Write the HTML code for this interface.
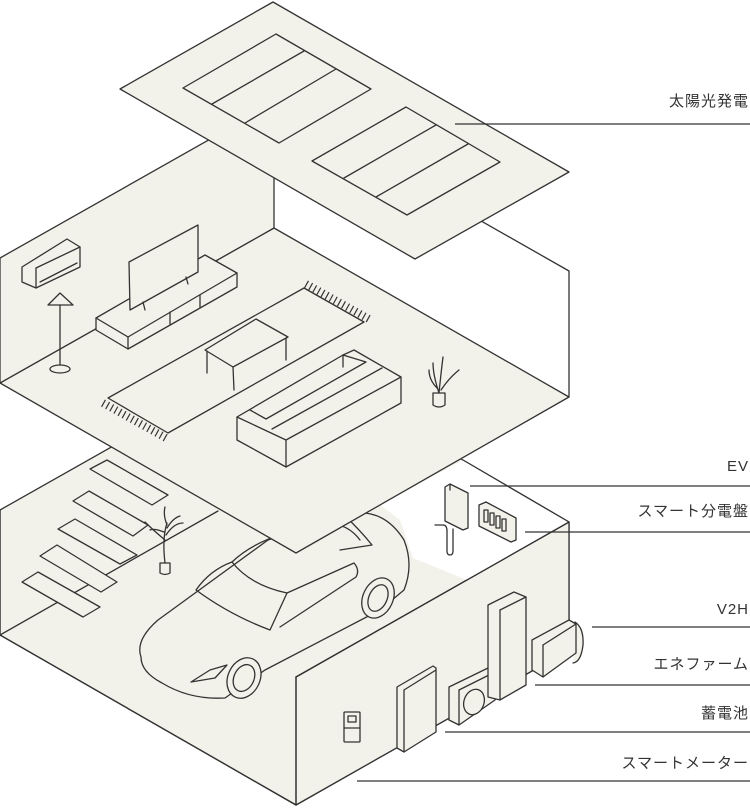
<!DOCTYPE html>
<html><head><meta charset="utf-8"><style>
html,body{margin:0;padding:0;background:#fff;}
svg{display:block;}
text{font-family:"Liberation Sans","Noto Sans CJK JP",sans-serif;font-size:15px;fill:#333;letter-spacing:1px;}
</style></head><body>
<svg width="750" height="808" viewBox="0 0 750 808" xmlns="http://www.w3.org/2000/svg">
<g fill="#f3f2ea" stroke="#333" stroke-width="1.3" stroke-linejoin="round" stroke-linecap="round">
<!-- lower box -->
<polygon points="0,510 230,380 461,459 569,522 569,650 296,805 0,635"/>
<polygon points="296,677 569,522 569,650 296,805" />
<polyline fill="none" points="0,510 0,635 296,805"/>
<polygon fill="#fff" stroke="none" points="380,505 463,460 569,522 467,580 413,558 400,520"/>
<line x1="463" y1="460" x2="569" y2="522"/>
<line x1="296" y1="677" x2="569" y2="522"/>
<line x1="296" y1="677" x2="296" y2="805"/>
<line x1="0" y1="635" x2="218" y2="511"/>
<!-- parking stripes -->
<polygon points="90,469 107,460 168,495 152,505"/>
<polygon points="73,501 89,491 148,525 133,536"/>
<polygon points="58,529 75,519 137,555 120,564"/>
<polygon points="40,556 57,545 117,582 101,592"/>
<polygon points="22,582 38,572 100,607 83,617"/>
<!-- plant lower -->
<path d="M160,563 h10 v10 q-5,3 -10,0z" />
<path fill="none" d="M165,563 q-3,-25 2,-40 M165,540 q-12,-10 -20,-18 M166,535 q8,-12 17,-12 M167,525 q-4,-10 -2,-18 M167,528 q6,-10 13,-12 M164,532 q-10,-4 -14,-2"/>
<!-- car -->
<path d="M141,657 Q135,640 158,620 L268,540 L344,515 Q382,505 404,540 Q414,565 404,590 L380,610 L265,670 L225,698 Q190,700 162,683 Q141,672 141,657Z"/>
<path fill="none" d="M196,590 Q210,570 232,562 Q250,585 287,593 L270,630 Q230,615 196,590Z"/>
<path fill="none" d="M287,593 L354,563 Q360,570 356,577 L280,627"/>
<path fill="none" d="M232,562 Q260,535 320,525 Q345,520 360,540"/>
<path fill="none" d="M344,515 Q360,530 372,545 L340,550"/>
<path fill="none" d="M191,682 L210,670 L227,665 L215,678Z"/>
<ellipse cx="244" cy="678" rx="16" ry="21" transform="rotate(25 244 678)"/>
<ellipse cx="244" cy="678" rx="10" ry="14" transform="rotate(25 244 678)"/>
<ellipse cx="378" cy="598" rx="15" ry="21" transform="rotate(25 378 598)"/>
<ellipse cx="378" cy="598" rx="9" ry="14" transform="rotate(25 378 598)"/>
<!-- EV charger -->
<polygon points="445,487 450,484 468,493 468,528 463,530 445,521"/>
<line x1="450" y1="484" x2="450" y2="490"/>
<path fill="none" d="M435,525 h8 q4,0 4,6 v20 q0,4 3,4 q3,0 3,-4 v-22"/>
<!-- distribution board -->
<polygon points="479,505 486,502 516,518 516,540 511,542 479,526"/>
<g fill="none"><rect x="484" y="510" width="4" height="12"/><rect x="490" y="513" width="4" height="12"/><rect x="496" y="516" width="4" height="12"/><rect x="502" y="519" width="4" height="12"/></g>
<!-- front wall items -->
<rect x="344" y="712" width="16" height="30" rx="1"/>
<line x1="344" y1="728" x2="360" y2="728"/>
<rect x="348" y="716" width="8" height="6"/>
<polygon points="397,687 433,666 436,668 436,732 404,752 397,748"/>
<line x1="404" y1="690" x2="436" y2="670"/><line x1="404" y1="690" x2="404" y2="752"/>
<polygon points="449,687 488,668 495,672 495,700 459,725 449,720"/>
<line x1="459" y1="690" x2="495" y2="672"/><line x1="459" y1="690" x2="459" y2="725"/>
<ellipse cx="474" cy="702" rx="10" ry="13" transform="rotate(20 474 702)"/>
<polygon points="488,605 514,592 526,597 526,685 500,700 488,697"/>
<line x1="500" y1="610" x2="526" y2="597"/><line x1="500" y1="610" x2="500" y2="700"/>
<path d="M575,622 Q584,628 583,645 Q581,662 573,663"/>
<polygon points="532,640 569,620 576,624 576,653 543,677 532,670"/>
<line x1="543" y1="645" x2="576" y2="624"/><line x1="543" y1="645" x2="543" y2="677"/>
<!-- upper floor -->
<polygon points="0,383 274,228 569,397 296,553"/>
<polygon points="0,258 274,103 274,228 0,383"/>
<polyline fill="none" points="274,103 569,271 569,397"/>
<!-- rug -->
<line x1="306" y1="284" x2="369" y2="319" stroke-width="8" stroke-dasharray="1.2 3.5" stroke-linecap="butt" fill="none"/>
<line x1="103" y1="403" x2="166" y2="438" stroke-width="8" stroke-dasharray="1.2 3.5" stroke-linecap="butt" fill="none"/>
<polygon points="108,398 304,288 364,322 168,433"/>
<!-- AC -->
<polygon points="22,267 67,239 80,247 80,267 36,288 22,282"/>
<line x1="36" y1="268" x2="80" y2="247"/><line x1="36" y1="268" x2="36" y2="288"/>
<line x1="40" y1="282" x2="77" y2="263"/>
<!-- lamp -->
<polygon points="60,293 48,305 73,305"/>
<line x1="60" y1="305" x2="60" y2="368"/>
<ellipse cx="60" cy="369" rx="10" ry="4"/>
<!-- TV stand -->
<polygon points="96,318 205,255 237,273 237,287 128,349 96,330"/>
<polyline fill="none" points="96,318 128,337 237,273"/><line x1="128" y1="337" x2="128" y2="349"/>
<line x1="170" y1="312" x2="170" y2="324"/><line x1="200" y1="295" x2="200" y2="307"/>
<polygon points="129,262 198,225 198,272 130,310"/>
<line x1="143" y1="302" x2="145" y2="310"/><line x1="186" y1="277" x2="188" y2="284"/>
<!-- table -->
<polygon points="205,350 256,319 288,337 233,367"/>
<g fill="none"><line x1="207" y1="351" x2="207" y2="373"/><line x1="233" y1="367" x2="234" y2="390"/><line x1="286" y1="338" x2="286" y2="360"/></g>
<!-- sofa -->
<polygon points="237,417 343,355 354,350 401,377 401,403 286,467 237,440"/>
<polyline fill="none" points="237,417 286,440 401,377"/><line x1="286" y1="440" x2="286" y2="467"/>
<polyline fill="none" points="250,410 266,419 366,362 343,355 343,367"/>
<line x1="272" y1="429" x2="382" y2="368"/>
<!-- plant upper -->
<path d="M433,393 h12 v12 q-6,4 -12,0z"/>
<path fill="none" d="M439,393 q-6,-18 -6,-30 M439,393 q2,-20 4,-36 M441,390 q8,-12 18,-20 M437,388 q-8,-8 -8,-18"/>
<!-- roof -->
<polygon points="273,2 569,172 415,259 120,89"/>
<polygon fill="none" points="276,34 371,89 279,143 183,88"/>
<line x1="304" y1="51" x2="212" y2="104"/><line x1="336" y1="69" x2="245" y2="123"/>
<polygon fill="none" points="406,107 500,162 407,215 312,161"/>
<line x1="436" y1="125" x2="344" y2="178"/><line x1="468" y1="144" x2="376" y2="197"/>
</g>
<!-- labels -->
<g stroke="#333" stroke-width="1.2">
<line x1="455" y1="124" x2="750" y2="124"/>
<line x1="470" y1="486" x2="750" y2="486"/>
<line x1="525" y1="532" x2="750" y2="532"/>
<line x1="592" y1="627" x2="750" y2="627"/>
<line x1="535" y1="685" x2="750" y2="685"/>
<line x1="445" y1="732" x2="750" y2="732"/>
<line x1="357" y1="781" x2="750" y2="781"/>
</g>
<g text-anchor="end">
<text x="749" y="106">太陽光発電</text>
<text x="749" y="471">EV</text>
<text x="749" y="516">スマート分電盤</text>
<text x="749" y="614">V2H</text>
<text x="749" y="669">エネファーム</text>
<text x="749" y="718">蓄電池</text>
<text x="749" y="768">スマートメーター</text>
</g>
</svg>
</body></html>
